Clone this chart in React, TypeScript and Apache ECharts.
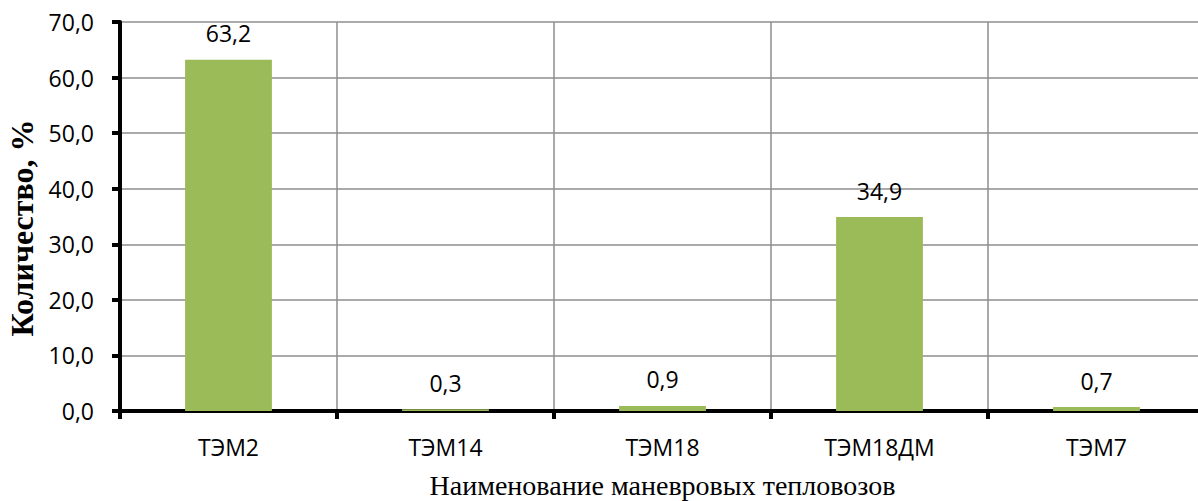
import React, { useEffect, useRef } from "react";
import * as echarts from "echarts";

const categories = ["ТЭМ2", "ТЭМ14", "ТЭМ18", "ТЭМ18ДМ", "ТЭМ7"];
const values = [63.2, 0.3, 0.9, 34.9, 0.7];
const yTitle = "Количество, %";
const xTitle = "Наименование маневровых тепловозов";

const fmt = (v: number) => v.toFixed(1).replace(".", ",");

export default function App() {
  const ref = useRef<HTMLDivElement>(null);
  useEffect(() => {
    document.body.style.margin = "0";
    const chart = echarts.init(ref.current!, null, { renderer: "svg" });
    chart.setOption({
      animation: false,
      backgroundColor: "#ffffff",
      grid: {
        left: 120,
        right: -7,
        top: 22,
        bottom: 90,
        containLabel: false,
        outerBoundsMode: "none",
      },
      xAxis: {
        type: "category",
        data: categories,
        name: xTitle,
        nameLocation: "middle",
        nameGap: 60,
        nameTextStyle: {
          fontFamily: "Liberation Serif",
          fontSize: 28,
          lineHeight: 28,
          color: "#000",
        },
        axisLine: { show: true, lineStyle: { color: "#000", width: 4 } },
        axisTick: { show: true, length: 8, lineStyle: { color: "#000", width: 4 } },
        axisLabel: { fontFamily: "Open Sans", fontSize: 23, color: "#000", margin: 24 },
        splitLine: { show: true, lineStyle: { color: "#8e8e8e", width: 1.5 } },
      },
      yAxis: {
        type: "value",
        min: 0,
        max: 70,
        interval: 10,
        axisLine: { show: true, lineStyle: { color: "#000", width: 4 } },
        axisTick: { show: true, length: 8, lineStyle: { color: "#000", width: 4 } },
        axisLabel: {
          fontFamily: "Open Sans",
          fontSize: 23,
          color: "#000",
          margin: 26,
          formatter: (v: number) => fmt(v),
        },
        splitLine: { show: true, lineStyle: { color: "#8e8e8e", width: 1.5 } },
      },
      graphic: [
        {
          type: "text",
          x: 22,
          y: 228,
          rotation: Math.PI / 2,
          style: {
            text: yTitle,
            fontFamily: "Liberation Serif",
            fontWeight: "bold",
            fontSize: 32,
            fill: "#000",
            align: "center",
            verticalAlign: "middle",
          },
        },
      ],
      series: [
        {
          type: "bar",
          data: values,
          barWidth: "40%",
          itemStyle: { color: "#9BBB59" },
          label: {
            show: true,
            position: "top",
            distance: 15,
            fontFamily: "Open Sans",
            fontSize: 23,
            color: "#000",
            formatter: (p: any) => fmt(p.value),
          },
        },
      ],
    });
    return () => chart.dispose();
  }, []);
  return <div ref={ref} style={{ width: 1198, height: 501 }} />;
}
